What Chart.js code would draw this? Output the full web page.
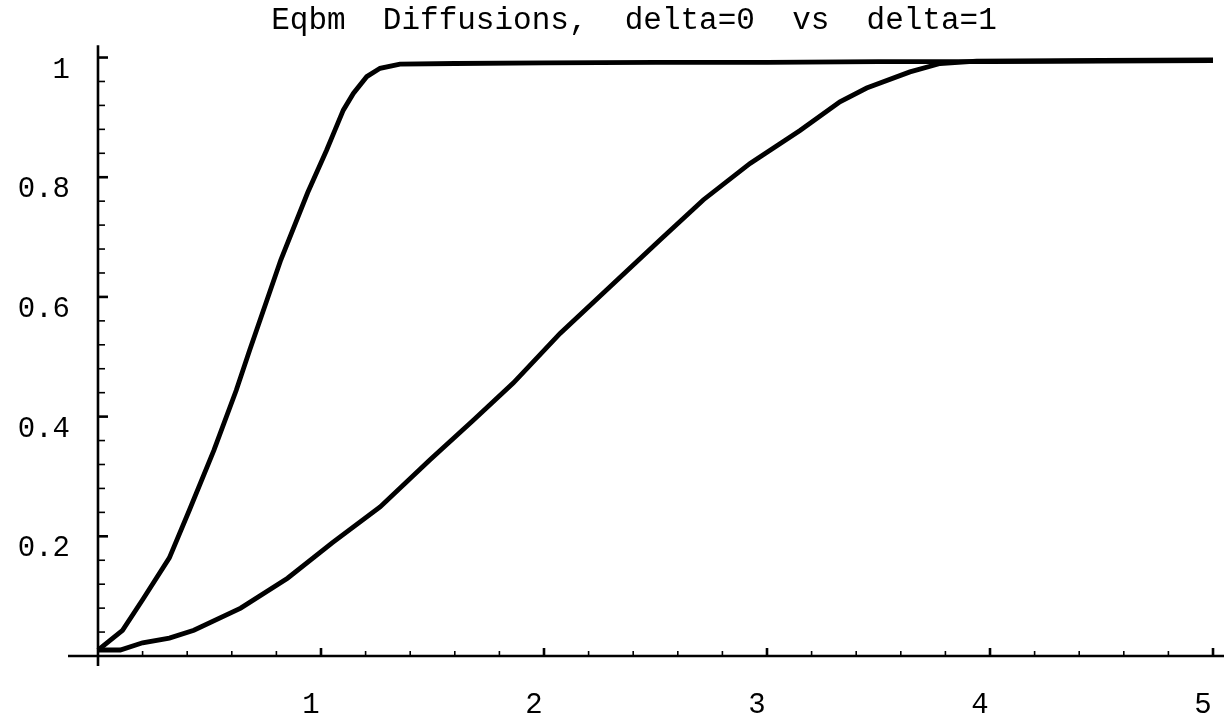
<!DOCTYPE html>
<html>
<head>
<meta charset="utf-8">
<script src="https://cdn.jsdelivr.net/npm/chart.js@4.4.1/dist/chart.umd.min.js"></script>
<style>
  html, body { margin: 0; padding: 0; background: #fff; }
  #wrap { width: 1226px; height: 714px; }
</style>
</head>
<body>
<div id="wrap"><canvas id="eqbmChart" width="1226" height="714"></canvas></div>
<script>
// Data
const chartTitle = 'Eqbm  Diffusions,  delta=0  vs  delta=1';

// steep curve (delta=0)
const xValuesA = [0, 0.05, 0.11, 0.2, 0.32, 0.41, 0.52, 0.62, 0.68, 0.82, 0.94, 1.025, 1.063, 1.1, 1.145, 1.205, 1.265, 1.354, 1.6, 2.0, 2.5, 3.0, 3.5, 4.0, 4.5, 5.0];
const yValuesA = [0.01, 0.025, 0.043, 0.094, 0.164, 0.244, 0.344, 0.444, 0.511, 0.662, 0.774, 0.845, 0.879, 0.912, 0.940, 0.968, 0.982, 0.989, 0.990, 0.991, 0.992, 0.992, 0.993, 0.993, 0.994, 0.995];

// slower curve (delta=1)
const xValuesB = [0, 0.1, 0.2, 0.32, 0.43, 0.64, 0.85, 1.05, 1.265, 1.489, 1.683, 1.862, 2.072, 2.296, 2.52, 2.714, 2.924, 3.148, 3.327, 3.447, 3.641, 3.776, 3.94, 4.5, 5.0];
const yValuesB = [0.01, 0.01, 0.022, 0.03, 0.043, 0.08, 0.13, 0.189, 0.249, 0.328, 0.394, 0.456, 0.539, 0.617, 0.695, 0.762, 0.823, 0.878, 0.926, 0.949, 0.976, 0.990, 0.994, 0.995, 0.996];

const xTickValues = [1, 2, 3, 4, 5];
const xTickLabels = ['1', '2', '3', '4', '5'];
const yTickValues = [0.2, 0.4, 0.6, 0.8, 1];
const yTickLabels = ['0.2', '0.4', '0.6', '0.8', '1'];
const xMinorStep = 0.2;
const yMinorStep = 0.04;

const FONT = '"Liberation Mono", "Courier New", monospace';

// Mathematica style axes crossing at the origin, ticks on the inside
const originAxes = {
    id: 'originAxes',
    beforeDatasetsDraw(chart) {
        const ctx = chart.ctx;
        const xs = chart.scales.x;
        const ys = chart.scales.y;
        const area = chart.chartArea;
        const x0 = xs.getPixelForValue(0);
        const y0 = ys.getPixelForValue(0);

        ctx.save();
        ctx.strokeStyle = '#000';
        ctx.lineCap = 'butt';

        // axis lines
        ctx.lineWidth = 2.6;
        ctx.beginPath();
        ctx.moveTo(area.left, y0);
        ctx.lineTo(area.right, y0);
        ctx.moveTo(x0, area.top);
        ctx.lineTo(x0, area.bottom);
        ctx.stroke();

        // x minor + major ticks (pointing up)
        for (let i = 1; i * xMinorStep <= 5 + 1e-9; i++) {
            const v = i * xMinorStep;
            const major = Math.abs(v - Math.round(v)) < 1e-6;
            const px = xs.getPixelForValue(v);
            ctx.lineWidth = major ? 2.6 : 1.6;
            ctx.beginPath();
            ctx.moveTo(px, y0);
            ctx.lineTo(px, y0 - (major ? 8 : 5));
            ctx.stroke();
        }

        // y minor + major ticks (pointing right)
        for (let i = 1; i * yMinorStep <= 1 + 1e-9; i++) {
            const v = i * yMinorStep;
            const major = Math.abs(v * 5 - Math.round(v * 5)) < 1e-6;
            const py = ys.getPixelForValue(v);
            ctx.lineWidth = major ? 2.6 : 1.6;
            ctx.beginPath();
            ctx.moveTo(x0, py);
            ctx.lineTo(x0 + (major ? 10 : 7), py);
            ctx.stroke();
        }

        // tick labels
        ctx.fillStyle = '#000';
        ctx.font = '29px ' + FONT;
        ctx.textBaseline = 'alphabetic';
        ctx.textAlign = 'center';
        xTickValues.forEach((v, i) => {
            ctx.fillText(xTickLabels[i], xs.getPixelForValue(v) - 10, y0 + 57);
        });
        ctx.textAlign = 'right';
        yTickValues.forEach((v, i) => {
            ctx.fillText(yTickLabels[i], 70, ys.getPixelForValue(v) + 20);
        });

        // title
        ctx.font = '31px ' + FONT;
        ctx.textAlign = 'center';
        ctx.fillText(chartTitle, 634, 29);
        ctx.restore();
    }
};

function toPoints(xs, ys) {
    return xs.map((x, i) => ({ x: x, y: ys[i] }));
}

const ctx = document.getElementById('eqbmChart').getContext('2d');
new Chart(ctx, {
    type: 'line',
    data: {
        datasets: [{
            label: 'delta=0',
            data: toPoints(xValuesA, yValuesA),
            borderColor: '#000',
            borderWidth: 4.8,
            pointRadius: 0,
            tension: 0,
            fill: false
        }, {
            label: 'delta=1',
            data: toPoints(xValuesB, yValuesB),
            borderColor: '#000',
            borderWidth: 4.8,
            pointRadius: 0,
            tension: 0,
            fill: false
        }]
    },
    options: {
        responsive: false,
        animation: false,
        devicePixelRatio: 1,
        layout: {
            padding: { left: 68, right: 2, top: 45.2, bottom: 48 }
        },
        scales: {
            x: { type: 'linear', min: -0.1345, max: 5.0493, display: false },
            y: { type: 'linear', min: -0.0167, max: 1.0206, display: false }
        },
        plugins: {
            legend: { display: false },
            tooltip: { enabled: false },
            title: { display: false }
        }
    },
    plugins: [originAxes]
});
</script>
</body>
</html>
